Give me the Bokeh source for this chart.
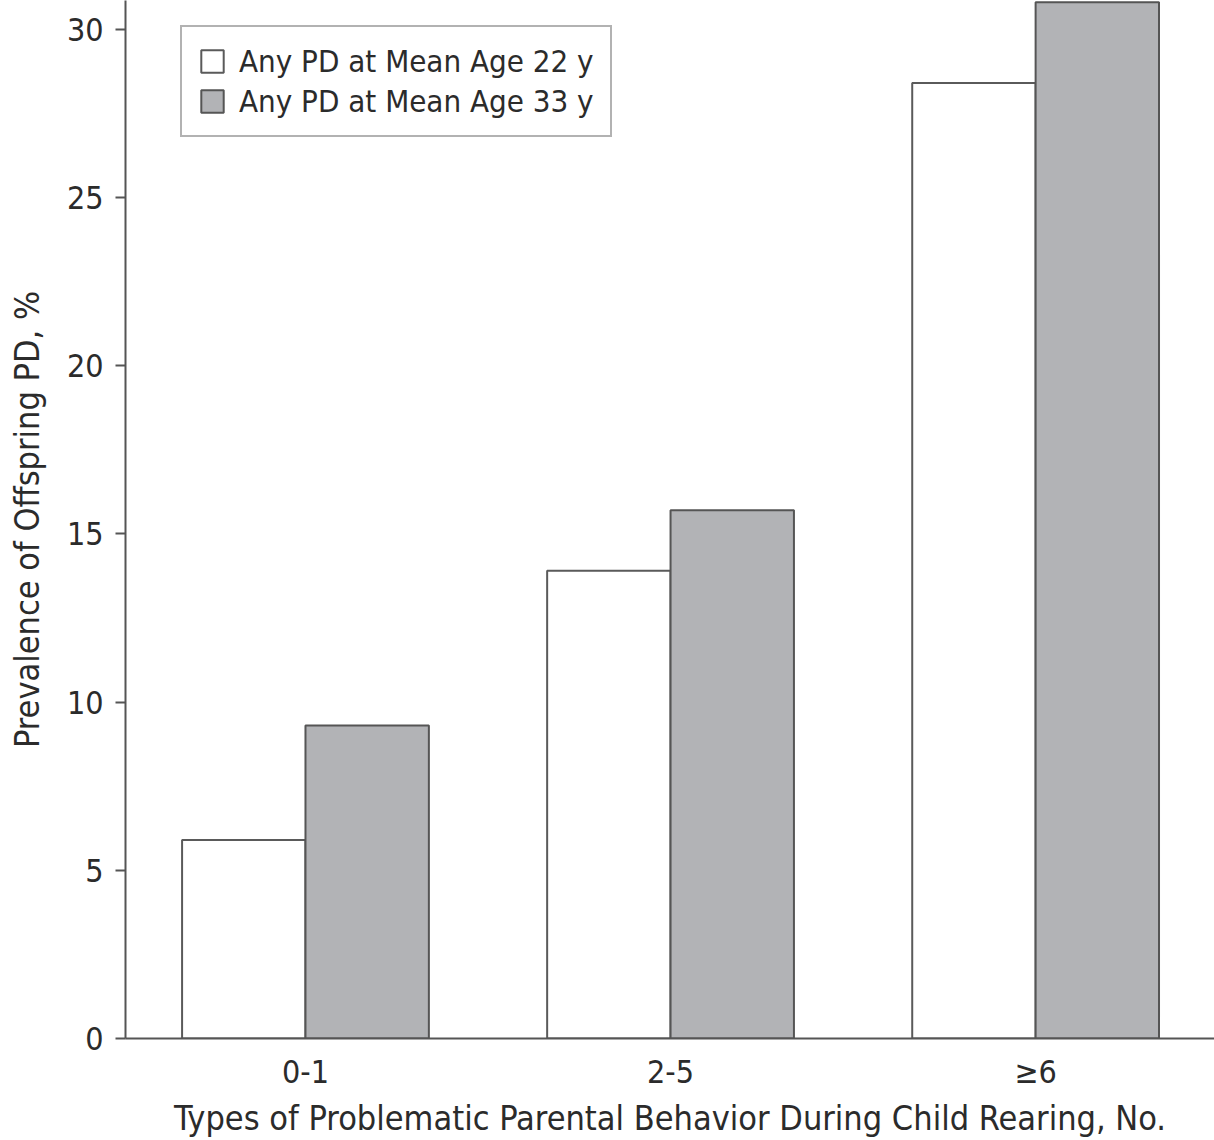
from bokeh.plotting import figure
from bokeh.models import Range1d, FixedTicker, Legend, LegendItem, ColumnDataSource
from bokeh.embed import file_html
from bokeh.resources import INLINE

categories = ["0-1", "2-5", "≥6"]
age22 = [5.9, 13.9, 28.4]
age33 = [9.3, 15.7, 30.8]
series_names = ["Any PD at Mean Age 22 y", "Any PD at Mean Age 33 y"]
y_ticks = [0, 5, 10, 15, 20, 25, 30]

FONT = "DejaVu Sans Condensed"
AX = "#555555"
TXT = "#2b2b2b"

pos = [i + 1 for i in range(len(categories))]
bw = 0.338

src22 = ColumnDataSource(dict(x=[p_ - bw / 2 for p_ in pos], top=age22))
src33 = ColumnDataSource(dict(x=[p_ + bw / 2 for p_ in pos], top=age33))

p = figure(width=1214, height=1140, output_backend="svg", toolbar_location=None,
           x_range=Range1d(0.507, 3.49), y_range=Range1d(0, 30.85),
           min_border_left=125, min_border_right=0, min_border_top=0, min_border_bottom=102)
p.outline_line_color = None
p.grid.visible = False
p.background_fill_color = "white"
p.border_fill_color = "white"

r1 = p.vbar(x="x", top="top", width=bw, bottom=0, source=src22,
            fill_color="white", line_color="#5a5a5a", line_width=2)
r2 = p.vbar(x="x", top="top", width=bw, bottom=0, source=src33,
            fill_color="#b2b3b6", line_color="#555555", line_width=2)

xa = p.xaxis[0]
xa.ticker = FixedTicker(ticks=pos)
xa.major_label_overrides = {p_: c for p_, c in zip(pos, categories)}
xa.major_tick_line_color = None
xa.minor_tick_line_color = None
xa.axis_line_color = AX
xa.axis_line_width = 2
xa.major_label_text_font = FONT
xa.major_label_text_font_size = "32px"
xa.major_label_text_color = TXT
xa.major_label_standoff = 8
xa.axis_label = "Types of Problematic Parental Behavior During Child Rearing, No."
xa.axis_label_text_font = FONT
xa.axis_label_text_font_size = "34px"
xa.axis_label_text_font_style = "normal"
xa.axis_label_text_color = TXT
xa.axis_label_standoff = 4

ya = p.yaxis[0]
ya.ticker = FixedTicker(ticks=y_ticks)
ya.minor_tick_line_color = None
ya.axis_line_color = AX
ya.axis_line_width = 2
ya.major_tick_line_color = AX
ya.major_tick_line_width = 2
ya.major_tick_out = 10
ya.major_tick_in = 0
ya.major_label_text_font = FONT
ya.major_label_text_font_size = "32px"
ya.major_label_text_color = TXT
ya.major_label_standoff = 12
ya.axis_label = "Prevalence of Offspring PD, %"
ya.axis_label_text_font = FONT
ya.axis_label_text_font_size = "34px"
ya.axis_label_text_font_style = "normal"
ya.axis_label_text_color = TXT
ya.axis_label_standoff = 17

legend = Legend(items=[LegendItem(label=series_names[0], renderers=[r1]),
                       LegendItem(label=series_names[1], renderers=[r2])],
                location=(55, 901))
legend.label_text_font = FONT
legend.label_text_font_size = "31px"
legend.label_text_color = TXT
legend.border_line_color = "#666666"
legend.border_line_width = 2
legend.glyph_width = 28
legend.glyph_height = 28
legend.label_standoff = 13
legend.padding = 16
legend.spacing = 4
legend.margin = 0
legend.label_height = 36
p.add_layout(legend)

open("out.html", "w").write(file_html(p, INLINE))
